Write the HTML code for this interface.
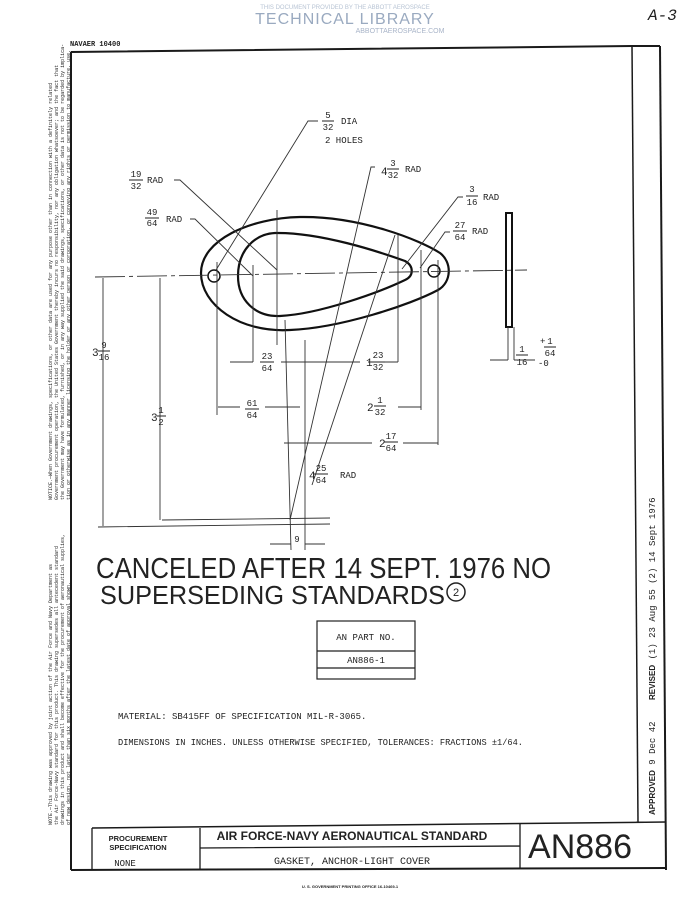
<!DOCTYPE html>
<html><head><meta charset="utf-8"><style>
html,body{margin:0;padding:0;background:#fff}
svg{display:block}
text{font-family:"Liberation Mono",monospace;fill:#222}
.s{font-family:"Liberation Sans",sans-serif}
</style></head><body>
<svg width="700" height="917" viewBox="0 0 700 917" xmlns="http://www.w3.org/2000/svg">
<!-- watermark -->
<text x="345" y="9" class="s" font-size="6" fill="#b8c4d4" style="fill:#b8c4d4" text-anchor="middle">THIS DOCUMENT PROVIDED BY THE ABBOTT AEROSPACE</text>
<text x="345" y="24" class="s" font-size="16" style="fill:#9aaac0" text-anchor="middle" letter-spacing="1">TECHNICAL LIBRARY</text>
<text x="400" y="33" class="s" font-size="7" style="fill:#a8b4c8" text-anchor="middle">ABBOTTAEROSPACE.COM</text>
<text x="648" y="20" font-family="Liberation Serif" font-style="italic" font-size="16">A-3</text>
<text x="70" y="46" font-family="Liberation Serif" font-size="7" font-weight="bold">NAVAER 10400</text>

<!-- frame -->
<g stroke="#1a1a1a" fill="none">
<path d="M71 52 L632 46 L660 46" stroke-width="2"/>
<path d="M71 52 L71 870" stroke-width="2"/>
<path d="M632 46 L638 822" stroke-width="1.5"/>
<path d="M660 46 L666 870" stroke-width="2"/>
<path d="M92 828 L666 822" stroke-width="1.5"/>
<path d="M71 870 L666 868" stroke-width="2"/>
<path d="M200 828 L200 870 M520 824 L520 868 M200 848 L520 846 M92 828 L92 870" stroke-width="1.3"/>
</g>
<!-- title block text -->
<text x="138" y="841" class="s" font-size="7.5" font-weight="bold" text-anchor="middle">PROCUREMENT</text>
<text x="138" y="850" class="s" font-size="7.5" font-weight="bold" text-anchor="middle">SPECIFICATION</text>
<text x="125" y="866" font-size="9" text-anchor="middle">NONE</text>
<text x="352" y="840" class="s" font-size="12" font-weight="bold" text-anchor="middle">AIR FORCE-NAVY AERONAUTICAL STANDARD</text>
<text x="352" y="864" font-size="10" text-anchor="middle">GASKET, ANCHOR-LIGHT COVER</text>
<text x="580" y="858" class="s" font-size="34" text-anchor="middle">AN886</text>
<text x="350" y="888" class="s" font-size="4" font-weight="bold" text-anchor="middle">U. S. GOVERNMENT PRINTING OFFICE   16-10469-1</text>

<!-- side texts -->
<g class="s" font-size="5" style="fill:#333">
<text transform="translate(52,500) rotate(-90)">NOTICE.—When Government drawings, specifications, or other data are used for any purpose other than in connection with a definitely related</text>
<text transform="translate(58,500) rotate(-90)">Government procurement operation, the United States Government thereby incurs no responsibility, nor any obligation whatsoever; and the fact that</text>
<text transform="translate(64,500) rotate(-90)">the Government may have formulated, furnished, or in any way supplied the said drawings, specifications, or other data is not to be regarded by implica-</text>
<text transform="translate(70,500) rotate(-90)">tion or otherwise as in any manner licensing the holder or any other person or corporation, or conveying any rights or permission to manufacture, use,</text>
<text transform="translate(52,825) rotate(-90)">NOTE.—This drawing was approved by joint action of the Air Force and Navy Department as</text>
<text transform="translate(58,825) rotate(-90)">the Air Force-Navy standard for this product. This drawing supersedes all antecedent standard</text>
<text transform="translate(64,825) rotate(-90)">drawings in this product and shall become effective for the procurement of aeronautical supplies,</text>
<text transform="translate(70,825) rotate(-90)">of new design, not later than six months after the latest date of approval shown.</text>
</g>
<g font-size="9">
<text transform="translate(655,815) rotate(-90)"><tspan class="s" font-weight="bold" font-size="8">APPROVED</tspan>  9 Dec 42</text>
<text transform="translate(655,700) rotate(-90)"><tspan class="s" font-weight="bold" font-size="8">REVISED</tspan> (1) 23 Aug 55 (2) 14 Sept 1976</text>
</g>
<path d="M636 822 L660 822" stroke="#222"/>

<!-- gasket -->
<g stroke="#111" fill="none" stroke-width="2.2">
<path d="M201 273 C201 240 250 218 300 217 C360 216 420 240 440 253 C452 262 452 282 438 290 C410 305 340 328 290 330 C240 333 201 305 201 273 Z"/>
<path d="M238 276 C238 250 255 234 275 233 C320 232 380 252 405 261 C414 266 414 276 405 280 C380 292 320 314 280 316 C255 317 238 300 238 276 Z"/>
<circle cx="214" cy="276" r="6" stroke-width="1.5"/>
<circle cx="434" cy="271" r="6" stroke-width="1.5"/>
<rect x="506" y="213" width="6" height="114" stroke-width="2"/>
</g>
<g stroke="#333" fill="none" stroke-width="0.9">
<path d="M95 277 L527 270" stroke-dasharray="30 4 4 4"/>
<path d="M277 210 L277 345 M285 320 L291 550 M305 340 L305 550" />
<path d="M217 262 L217 415 M253 265 L253 362 M398 235 L398 362 M421 250 L421 410 M438 260 L438 445"/>
<path d="M103 278 L103 526 M160 278 L160 520 M98 527 L330 524 M162 520 L330 518"/>
<path d="M230 362 L253 362 M281 362 L360 362 M368 362 L398 362"/>
<path d="M218 407 L240 407 M265 407 L300 407 M398 407 L421 407"/>
<path d="M284 443 L372 443 M403 443 L438 443"/>
<path d="M508 327 L508 360 M514 327 L514 360 M490 360 L508 360 M514 360 L535 360"/>
<path d="M270 544 L291 544 M305 544 L325 544"/>
<!-- leaders -->
<path d="M318 121 L308 121 L216 270"/>
<path d="M174 180 L180 180 L277 270"/>
<path d="M190 219 L195 219 L253 276"/>
<path d="M375 167 L371 167 L290 520"/>
<path d="M463 197 L458 197 L402 269"/>
<path d="M450 232 L445 232 L420 268"/>
<path d="M312 485 L395 235"/>
</g>
<!-- labels -->
<g font-size="9">
<text x="328" y="118" text-anchor="middle">5</text><path d="M322 121 L334 121" stroke="#222"/><text x="328" y="130" text-anchor="middle">32</text><text x="341" y="124">DIA</text>
<text x="325" y="143">2 HOLES</text>
<text x="136" y="177" text-anchor="middle">19</text><path d="M129 180 L143 180" stroke="#222"/><text x="136" y="189" text-anchor="middle">32</text><text x="147" y="183">RAD</text>
<text x="152" y="215" text-anchor="middle">49</text><path d="M145 218 L159 218" stroke="#222"/><text x="152" y="226" text-anchor="middle">64</text><text x="166" y="222">RAD</text>
<text x="381" y="175" font-size="11">4</text><text x="393" y="166" text-anchor="middle">3</text><path d="M387 169 L399 169" stroke="#222"/><text x="393" y="178" text-anchor="middle">32</text><text x="405" y="172">RAD</text>
<text x="472" y="192" text-anchor="middle">3</text><path d="M466 196 L478 196" stroke="#222"/><text x="472" y="205" text-anchor="middle">16</text><text x="483" y="200">RAD</text>
<text x="460" y="228" text-anchor="middle">27</text><path d="M453 231 L467 231" stroke="#222"/><text x="460" y="240" text-anchor="middle">64</text><text x="472" y="234">RAD</text>
<text x="92" y="356" font-size="11">3</text><text x="104" y="348" text-anchor="middle">9</text><path d="M98 351 L110 351" stroke="#222"/><text x="104" y="360" text-anchor="middle">16</text>
<text x="267" y="359" text-anchor="middle">23</text><path d="M260 362 L274 362" stroke="#222"/><text x="267" y="371" text-anchor="middle">64</text>
<text x="366" y="366" font-size="11">1</text><text x="378" y="358" text-anchor="middle">23</text><path d="M371 362 L385 362" stroke="#222"/><text x="378" y="370" text-anchor="middle">32</text>
<text x="522" y="352" text-anchor="middle">1</text><path d="M516 355 L528 355" stroke="#222"/><text x="522" y="365" text-anchor="middle">16</text>
<text x="540" y="344">+</text><text x="550" y="344" text-anchor="middle">1</text><path d="M544 347 L556 347" stroke="#222"/><text x="550" y="356" text-anchor="middle">64</text><text x="538" y="366">-0</text>
<text x="252" y="406" text-anchor="middle">61</text><path d="M245 409 L259 409" stroke="#222"/><text x="252" y="418" text-anchor="middle">64</text>
<text x="367" y="411" font-size="11">2</text><text x="380" y="403" text-anchor="middle">1</text><path d="M374 406 L386 406" stroke="#222"/><text x="380" y="415" text-anchor="middle">32</text>
<text x="151" y="421" font-size="11">3</text><text x="161" y="413" text-anchor="middle">1</text><path d="M157 416 L166 416" stroke="#222"/><text x="161" y="425" text-anchor="middle">2</text>
<text x="379" y="447" font-size="11">2</text><text x="391" y="439" text-anchor="middle">17</text><path d="M384 442 L398 442" stroke="#222"/><text x="391" y="451" text-anchor="middle">64</text>
<text x="309" y="479" font-size="11">4</text><text x="321" y="471" text-anchor="middle">25</text><path d="M314 474 L328 474" stroke="#222"/><text x="321" y="483" text-anchor="middle">64</text><text x="340" y="478">RAD</text>
<text x="297" y="542" text-anchor="middle">9</text>
</g>
<!-- stamp -->
<text x="96" y="578" class="s" font-size="29" transform="scale(1,1)" textLength="455" lengthAdjust="spacingAndGlyphs">CANCELED AFTER 14 SEPT. 1976  NO</text>
<text x="100" y="604" class="s" font-size="26" textLength="345" lengthAdjust="spacingAndGlyphs">SUPERSEDING STANDARDS</text>
<circle cx="456" cy="592" r="9" fill="none" stroke="#222" stroke-width="1.5"/><text x="456" y="596" class="s" font-size="11" text-anchor="middle">2</text>
<!-- part table -->
<g stroke="#222" fill="none" stroke-width="1.2">
<rect x="317" y="621" width="98" height="58"/>
<path d="M317 651 L415 651 M317 668 L415 668"/>
</g>
<text x="366" y="640" font-size="9" text-anchor="middle">AN PART NO.</text>
<text x="366" y="663" font-size="9" text-anchor="middle">AN886-1</text>
<text x="118" y="719" font-size="9">MATERIAL:  SB415FF OF SPECIFICATION MIL-R-3065.</text>
<text x="118" y="745" font-size="9" textLength="405" lengthAdjust="spacingAndGlyphs">DIMENSIONS IN INCHES.  UNLESS OTHERWISE SPECIFIED, TOLERANCES:  FRACTIONS ±1/64.</text>
</svg>
</body></html>
